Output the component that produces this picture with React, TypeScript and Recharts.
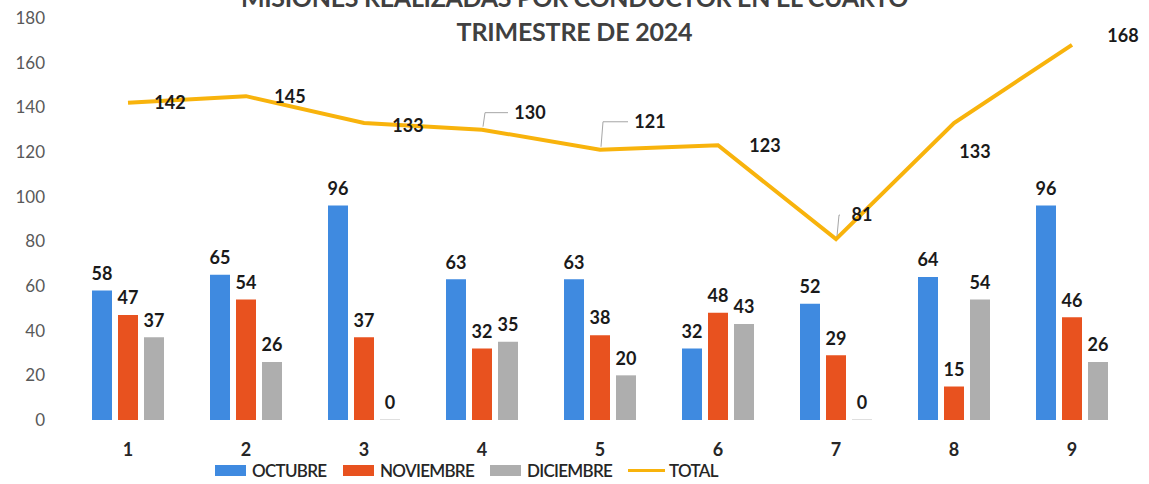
import React from "react";
import { ComposedChart, Bar, Line, XAxis, YAxis, LabelList } from "recharts";

const categories = ["1", "2", "3", "4", "5", "6", "7", "8", "9"];
const octubre = [58, 65, 96, 63, 63, 32, 52, 64, 96];
const noviembre = [47, 54, 37, 32, 38, 48, 29, 15, 46];
const diciembre = [37, 26, 0, 35, 20, 43, 0, 54, 26];
const total = [142, 145, 133, 130, 121, 123, 81, 133, 168];
const yTicks = [0, 20, 40, 60, 80, 100, 120, 140, 160, 180];

// where the total labels sit relative to their point (label centre), leader line or not
const totalLabelShift: [number, number, boolean][] = [
  [42, 0, false], [44, 1, false], [44, 3, false], [48, -17, true], [50, -28, true],
  [47, 0, false], [26, -24, true], [21, 29, false], [51, -9, false],
];

const FONT = "Lato, 'Open Sans', sans-serif";
const BLUE = "#3f8ae0";
const RED = "#e8521f";
const GREY = "#aeaeae";
const ORANGE = "#f8b30c";

const data = categories.map((c, i) => ({
  name: c,
  octubre: octubre[i],
  noviembre: noviembre[i],
  diciembre: diciembre[i],
  total: total[i],
}));

const renderBarLabel = (p: any) => {
  if (p.value === undefined || p.value === null) return null;
  const cx = Number(p.x) + Number(p.width) / 2;
  const top = Number(p.y);
  return (
    <text x={cx} y={top - 17} dy="0.35em" textAnchor="middle" fontFamily={FONT} fontWeight={700} fontSize={18} fill="#1a1a1a">
      {p.value}
    </text>
  );
};

const renderTotalLabel = (p: any) => {
  const s = totalLabelShift[p.index];
  if (!s) return null;
  const [dx, dy, leader] = s;
  const lx = p.x + dx;
  const ly = p.y + dy;
  return (
    <g>
      {leader && (
        <polyline
          points={`${p.x + 1},${p.y - 3} ${p.x + 3},${ly} ${lx - 22},${ly}`}
          fill="none"
          stroke="#a6a6a6"
          strokeWidth={1}
        />
      )}
      <text x={lx} y={ly} dy="0.35em" textAnchor="middle" fontFamily={FONT} fontWeight={700} fontSize={18} fill="#1a1a1a">
        {p.value}
      </text>
    </g>
  );
};

const legendItems = [
  { label: "OCTUBRE", color: BLUE, line: false, x: 215 },
  { label: "NOVIEMBRE", color: RED, line: false, x: 343 },
  { label: "DICIEMBRE", color: GREY, line: false, x: 490 },
  { label: "TOTAL", color: ORANGE, line: true, x: 628 },
];

export default function App() {
  return (
    <div style={{ position: "absolute", left: 0, top: 0, width: 1149, height: 484, background: "#fff", overflow: "hidden", fontFamily: FONT }}>
      <div style={{ position: "absolute", left: 0, width: 1149, top: -15, textAlign: "center", fontSize: 25, fontWeight: 700, color: "#404040", lineHeight: "24px", letterSpacing: -0.3 }}>
        MISIONES REALIZADAS POR CONDUCTOR EN EL CUARTO
      </div>
      <div style={{ position: "absolute", left: 0, width: 1149, top: 18, textAlign: "center", fontSize: 25, fontWeight: 700, color: "#404040", lineHeight: "26px", letterSpacing: -0.2 }}>
        TRIMESTRE DE 2024
      </div>
      <ComposedChart
        width={1149}
        height={484}
        data={data}
        margin={{ top: 18, right: 18, left: 0, bottom: 34 }}
        barGap={6}
        barCategoryGap={23}
      >
        <XAxis
          dataKey="name"
          axisLine={false}
          tickLine={false}
          tickSize={0}
          tickMargin={23}
          height={30}
          tick={{ fontSize: 18, fontWeight: 700, fill: "#262626", fontFamily: FONT }}
        />
        <YAxis
          domain={[0, 180]}
          ticks={yTicks}
          axisLine={false}
          tickLine={false}
          tickSize={0}
          tickMargin={24}
          width={69}
          tick={{ fontSize: 17, fill: "#595959", fontFamily: FONT }}
        />
        <Bar dataKey="octubre" fill={BLUE} barSize={20} isAnimationActive={false}>
          <LabelList dataKey="octubre" content={renderBarLabel} />
        </Bar>
        <Bar dataKey="noviembre" fill={RED} barSize={20} isAnimationActive={false}>
          <LabelList dataKey="noviembre" content={renderBarLabel} />
        </Bar>
        <Bar dataKey="diciembre" fill={GREY} barSize={20} minPointSize={0.4} isAnimationActive={false}>
          <LabelList dataKey="diciembre" content={renderBarLabel} />
        </Bar>
        <Line
          dataKey="total"
          stroke={ORANGE}
          strokeWidth={4}
          dot={false}
          activeDot={false}
          isAnimationActive={false}
          type="linear"
        >
          <LabelList dataKey="total" content={renderTotalLabel} />
        </Line>
      </ComposedChart>
      {legendItems.map((it) => (
        <div key={it.label} style={{ position: "absolute", top: 460, left: it.x, height: 21, display: "flex", alignItems: "center", fontSize: 17, lineHeight: "21px", color: "#262626", fontWeight: 600, letterSpacing: -0.7 }}>
          {it.line ? (
            <div style={{ width: 37, height: 3, background: it.color, marginRight: 4 }} />
          ) : (
            <div style={{ width: 31, height: 11, background: it.color, marginRight: 6 }} />
          )}
          <span>{it.label}</span>
        </div>
      ))}
    </div>
  );
}
